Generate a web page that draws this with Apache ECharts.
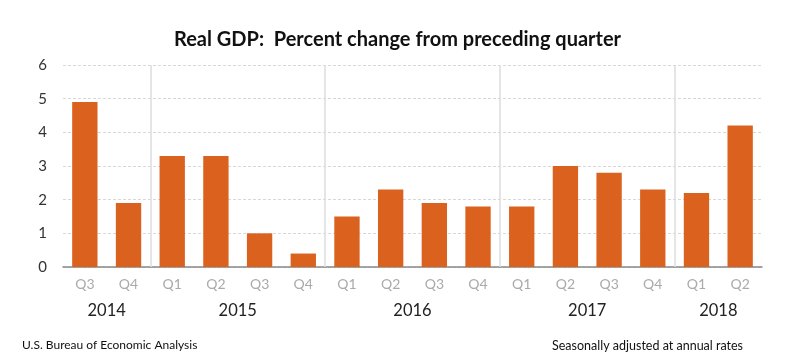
<!DOCTYPE html>
<html><head><meta charset="utf-8">
<script src="https://cdn.jsdelivr.net/npm/echarts@6/dist/echarts.min.js"></script>
<style>html,body{margin:0;padding:0;background:#fff}#c{width:795px;height:364px}</style>
</head><body><div id="c"></div>
<script>
const quarters = ['Q3','Q4','Q1','Q2','Q3','Q4','Q1','Q2','Q3','Q4','Q1','Q2','Q3','Q4','Q1','Q2'];
const gdpChange = [4.9,1.9,3.3,3.3,1.0,0.4,1.5,2.3,1.9,1.8,1.8,3.0,2.8,2.3,2.2,4.2];
const years = ['2014','2015','2016','2017','2018'];
const yearCenters = [1,4,8,12,15];
const yearBounds = [2,6,10,14];
const yTicks = [0,1,2,3,4,5,6];

const FONT = 'Lato';
const chart = echarts.init(document.getElementById('c'));
chart.setOption({
  animation: false,
  textStyle: {fontFamily: FONT},
  title: [
    {text: 'Real GDP:  Percent change from preceding quarter', left: 'center', top: 25,
     textStyle: {fontFamily: FONT, fontWeight: 'bold', fontSize: 20, color: '#111'}},
    {text: 'U.S. Bureau of Economic Analysis', left: 17, top: 334,
     textStyle: {fontFamily: FONT, fontWeight: 'normal', fontSize: 12, color: '#111'}},
    {text: 'Seasonally adjusted at annual rates', right: 47, top: 334,
     textStyle: {fontFamily: FONT, fontWeight: 'normal', fontSize: 12.5, color: '#111'}}
  ],
  grid: {left: 63, right: 33, top: 65, bottom: 97, containLabel: false},
  xAxis: [
    {type: 'category', data: quarters, position: 'bottom',
     axisLine: {lineStyle: {color: '#888', width: 1.5}},
     axisTick: {show: false},
     axisLabel: {color: '#aaa', fontSize: 14, margin: 10, fontFamily: FONT}},
    {type: 'value', min: 0, max: 16, position: 'bottom',
     axisLine: {show: false}, axisTick: {show: false}, splitLine: {show: false},
     axisLabel: {customValues: yearCenters, fontSize: 16.5, color: '#222', margin: 35, fontFamily: FONT,
       formatter: v => years[yearCenters.indexOf(v)] || ''}}
  ],
  yAxis: {type: 'value', min: 0, max: 6, interval: 1,
    axisLine: {show: false}, axisTick: {show: false},
    axisLabel: {color: '#333', fontSize: 15, margin: 16, fontFamily: FONT},
    splitLine: {lineStyle: {color: '#d8d8d8', type: [3,2]}}},
  series: [
    {type: 'bar', data: gdpChange, barWidth: '58%', xAxisIndex: 0,
     itemStyle: {color: '#DA621E'}, z: 3},
    {type: 'line', xAxisIndex: 1, data: [], silent: true,
     markLine: {symbol: 'none', silent: true, label: {show: false},
       lineStyle: {color: '#ddd', type: 'solid', width: 1.5},
       data: yearBounds.map(b => ({xAxis: b}))}}
  ]
});
</script></body></html>
